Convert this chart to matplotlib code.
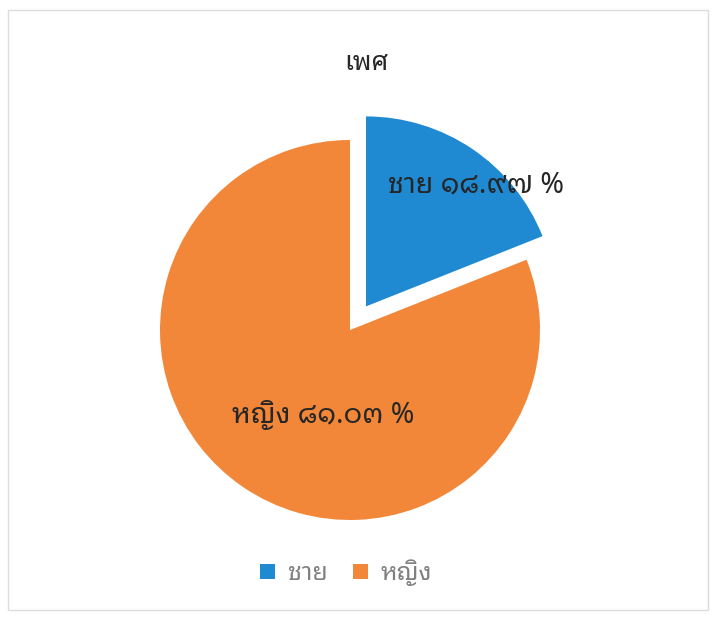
import numpy as np
import matplotlib
matplotlib.use("Agg")
import matplotlib.pyplot as plt
from matplotlib.patches import Rectangle

plt.rcParams['font.family'] = ['Noto Sans Thai Looped', 'DejaVu Sans']

#!----------------------------------------------------------------------
#!	DATA
#!----------------------------------------------------------------------
title = "เพศ"
labels = ["ชาย", "หญิง"]
values = [18.97, 81.03]
value_text = ["๑๘.๙๗", "๘๑.๐๓"]
colors = ["#1f8ad2", "#f2873a"]

#!----------------------------------------------------------------------
#!	PLOT
#!----------------------------------------------------------------------
W, H = 716, 617
fig = plt.figure(figsize=(W / 100, H / 100), dpi=100)

# light frame of the chart area
fig.patches.append(Rectangle((8 / W, 1 - 610 / H), 700 / W, 600 / H,
                             transform=fig.transFigure, fill=False,
                             edgecolor='#dcdcdc', lw=1.0))

cx, cy, R = 350, 330, 190
half = 1.6 * R
ax = fig.add_axes([(cx - half) / W, (H - cy - half) / H, 2 * half / W, 2 * half / H])
wedges, _ = ax.pie(values, colors=colors, startangle=90, counterclock=False,
                   explode=[0.15, 0], radius=1.0)
ax.set_xlim(-1.6, 1.6)
ax.set_ylim(-1.6, 1.6)
ax.set_aspect('equal')
ax.axis('off')

label_pos = [(0.663, 0.763), (-0.142, -0.447)]
for i in range(len(labels)):
    ax.text(label_pos[i][0], label_pos[i][1], labels[i] + " " + value_text[i] + " %",
            ha='center', va='center', fontsize=20.5, fontweight='bold', color='#262626')

fig.text(366 / W, 1 - 63 / H, title, ha='center', va='center', fontsize=19,
         fontweight='bold', color='#262626')

fig.legend(wedges, labels, loc='center', bbox_to_anchor=(346 / W, 1 - 573 / H),
           ncol=2, frameon=False, fontsize=18, handlelength=0.6, handleheight=0.6,
           columnspacing=1.0, handletextpad=0.5, labelcolor='#808080')

plt.savefig("out.png", dpi=100)
